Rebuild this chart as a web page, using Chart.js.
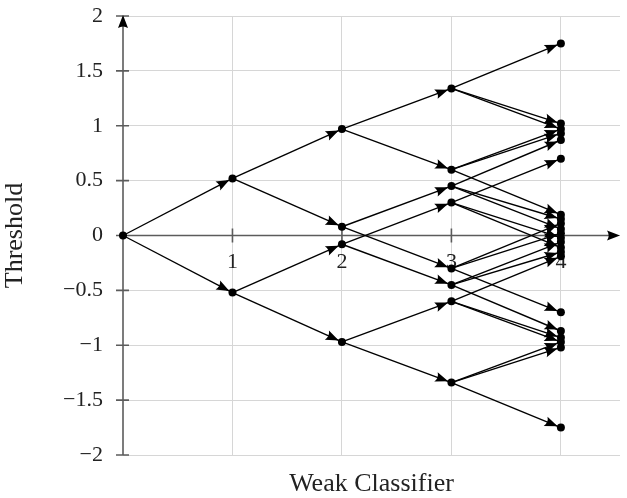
<!DOCTYPE html>
<html><head><meta charset="utf-8">
<script src="https://cdn.jsdelivr.net/npm/chart.js@4.4.1/dist/chart.umd.min.js"></script>
<style>html,body{margin:0;padding:0;background:#fff}</style>
</head><body>
<canvas id="c" width="627" height="498"></canvas>
<script>
// ---- data ----
const xTicks = [1, 2, 3, 4];
const yTicks = [-2, -1.5, -1, -0.5, 0, 0.5, 1, 1.5, 2];
const xTitle = 'Weak Classifier';
const yTitle = 'Threshold';
// each edge goes from (edgeX0, edgeY0) to (edgeX0 + 1, edgeY1)
const edgeX0 = [0, 0,
  1, 1, 1, 1,
  2, 2, 2, 2, 2, 2, 2, 2,
  3, 3, 3, 3, 3, 3, 3, 3, 3, 3, 3, 3,
  3, 3, 3, 3, 3, 3, 3, 3, 3, 3, 3, 3];
const edgeY0 = [0, 0,
  0.52, 0.52, -0.52, -0.52,
  0.97, 0.97, 0.08, 0.08, -0.08, -0.08, -0.97, -0.97,
  1.34, 1.34, 1.34, 0.60, 0.60, 0.60, 0.45, 0.45, 0.45, 0.30, 0.30, 0.30,
  -1.34, -1.34, -1.34, -0.60, -0.60, -0.60, -0.45, -0.45, -0.45, -0.30, -0.30, -0.30];
const edgeY1 = [0.52, -0.52,
  0.97, 0.08, -0.08, -0.97,
  1.34, 0.60, 0.45, -0.30, 0.30, -0.45, -0.60, -1.34,
  1.75, 1.02, 0.97, 0.97, 0.93, 0.19, 0.87, 0.15, 0.06, 0.70, -0.02, -0.11,
  -1.75, -1.02, -0.97, -0.97, -0.93, -0.19, -0.87, -0.15, -0.06, -0.70, 0.02, 0.11];

// ---- build datasets ----
const datasets = [];
const nodeSet = new Map();
nodeSet.set('0,0', {x: 0, y: 0});
for (let i = 0; i < edgeX0.length; i++) {
  const a = {x: edgeX0[i], y: edgeY0[i]};
  const b = {x: edgeX0[i] + 1, y: edgeY1[i]};
  nodeSet.set(a.x + ',' + a.y, a);
  nodeSet.set(b.x + ',' + b.y, b);
  datasets.push({
    type: 'scatter', data: [a, b], showLine: true, isEdge: true,
    borderColor: '#000', borderWidth: 1.4, pointRadius: 0, pointHoverRadius: 0,
    order: 1, clip: false
  });
}
datasets.push({
  type: 'scatter', data: Array.from(nodeSet.values()),
  pointRadius: 4, pointHoverRadius: 4, backgroundColor: '#000', borderWidth: 0,
  order: 0, clip: false
});

function arrowHead(ctx, x1, y1, x2, y2, back, len, hw) {
  const ang = Math.atan2(y2 - y1, x2 - x1);
  const tx = x2 - back * Math.cos(ang), ty = y2 - back * Math.sin(ang);
  const bx = tx - len * Math.cos(ang), by = ty - len * Math.sin(ang);
  const px = -Math.sin(ang) * hw, py = Math.cos(ang) * hw;
  ctx.beginPath();
  ctx.moveTo(tx, ty);
  ctx.lineTo(bx + px, by + py);
  ctx.quadraticCurveTo(bx + 0.25 * len * Math.cos(ang), by + 0.25 * len * Math.sin(ang), bx - px, by - py);
  ctx.closePath();
  ctx.fill();
}

const axesPlugin = {
  id: 'axesPlugin',
  beforeDatasetsDraw(chart) {
    const ctx = chart.ctx, xs = chart.scales.x, ys = chart.scales.y;
    const x0 = xs.getPixelForValue(0), y0 = ys.getPixelForValue(0);
    const yBot = ys.getPixelForValue(-2), yTop = ys.getPixelForValue(2) - 1;
    ctx.save();
    ctx.strokeStyle = '#5c5c5c';
    ctx.fillStyle = '#000';
    ctx.lineWidth = 1.6;
    ctx.beginPath();
    ctx.moveTo(x0, yBot); ctx.lineTo(x0, yTop + 6);
    ctx.moveTo(x0, y0); ctx.lineTo(xs.right - 6, y0);
    yTicks.forEach(v => {
      const p = ys.getPixelForValue(v);
      ctx.moveTo(x0 - 7, p); ctx.lineTo(x0 + 6, p);
    });
    xTicks.forEach(v => {
      const p = xs.getPixelForValue(v);
      ctx.moveTo(p, y0 - 7); ctx.lineTo(p, y0 + 7);
    });
    ctx.stroke();
    arrowHead(ctx, x0, yBot, x0, yTop, 0, 13, 5);
    arrowHead(ctx, x0, y0, xs.right, y0, 0, 13, 5);
    ctx.fillStyle = '#222';
    ctx.font = '22px "Liberation Serif"';
    ctx.textAlign = 'center';
    ctx.textBaseline = 'middle';
    xTicks.forEach(v => {
      ctx.fillText(String(v), xs.getPixelForValue(v), y0 + 27);
    });
    ctx.restore();
  },
  afterDatasetDraw(chart, args) {
    const ds = chart.data.datasets[args.index];
    if (!ds.isEdge) return;
    const pts = args.meta.data;
    const ctx = chart.ctx;
    ctx.save();
    ctx.fillStyle = '#000';
    arrowHead(ctx, pts[0].x, pts[0].y, pts[1].x, pts[1].y, 3.5, 13, 5);
    ctx.restore();
  }
};

new Chart(document.getElementById('c'), {
  type: 'scatter',
  data: {datasets},
  options: {
    responsive: false, animation: false, devicePixelRatio: 1,
    events: [],
    layout: {padding: {top: 16, right: 7, left: 0, bottom: 0}},
    plugins: {legend: {display: false}, tooltip: {enabled: false}},
    scales: {
      x: {
        type: 'linear', min: 0, max: 4.54,
        afterBuildTicks: s => { s.ticks = xTicks.map(v => ({value: v})); },
        ticks: {display: false},
        grid: {color: '#d6d6d6', lineWidth: 1, drawTicks: false},
        border: {display: false},
        title: {display: true, text: xTitle, color: '#222',
          font: {family: 'Liberation Serif', size: 26}, padding: {top: 0, bottom: -2}},
        afterFit: s => { s.height = 43; s.paddingLeft = 0; s.paddingRight = 0; s.paddingTop = 0; s.paddingBottom = 0; }
      },
      y: {
        type: 'linear', min: -2, max: 2,
        afterBuildTicks: s => { s.ticks = yTicks.map(v => ({value: v})); },
        ticks: {color: '#222', padding: 20, autoSkip: false,
          font: {family: 'Liberation Serif', size: 22},
          callback: v => String(v).replace('-', '\u2212')},
        grid: {color: '#d6d6d6', lineWidth: 1, drawTicks: false},
        border: {display: false},
        title: {display: true, text: yTitle, color: '#222',
          font: {family: 'Liberation Serif', size: 26}, padding: {top: 0, bottom: 0}},
        afterFit: s => { s.width = 123; s.paddingLeft = 0; s.paddingRight = 0; s.paddingTop = 0; s.paddingBottom = 0; }
      }
    }
  },
  plugins: [axesPlugin]
});
</script>
</body></html>
